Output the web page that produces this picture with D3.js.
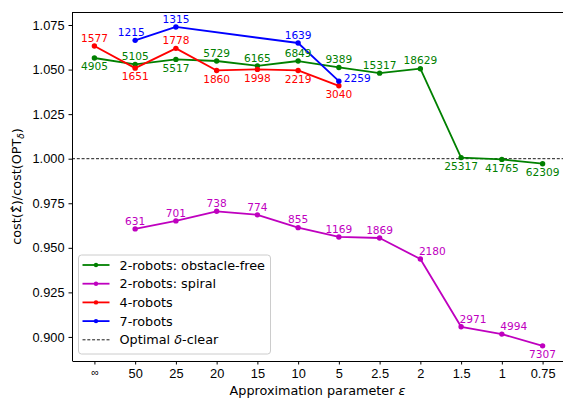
<!DOCTYPE html>
<html>
<head>
<meta charset="utf-8">
<script src="https://cdn.jsdelivr.net/npm/d3@7"></script>
<style>
  body { margin: 0; background: #fff; }
  svg { font-family: "DejaVu Sans", sans-serif; }
  .axis text { font-size: 12.8px; fill: #000; }
  .axis path, .axis line { stroke: #000; stroke-width: 1; }
</style>
</head>
<body>
<div id="chart"></div>
<script>
// categories on the x axis (approximation parameter)
var xLabels = ["\u221e", "50", "25", "20", "15", "10", "5", "2.5", "2", "1.5", "1", "0.75"];
var yTicks = [0.900, 0.925, 0.950, 0.975, 1.000, 1.025, 1.050, 1.075];

// series values (cost ratio) and annotated counts
var obstacleFree = [1.0565, 1.0529, 1.0557, 1.0548, 1.0521, 1.0548, 1.0512, 1.0480, 1.0505, 1.0006, 0.9996, 0.9972];
var obstacleFreeN = [4905, 5105, 5517, 5729, 6165, 6849, 9389, 15317, 18629, 25317, 41765, 62309];
var spiral = [null, 0.9606, 0.9651, 0.9705, 0.9685, 0.9613, 0.9561, 0.9555, 0.9437, 0.9057, 0.9016, 0.8950];
var spiralN = [null, 631, 701, 738, 774, 855, 1169, 1869, 2180, 2971, 4994, 7307];
var robots4 = [1.0632, 1.0508, 1.0619, 1.0495, 1.0501, 1.0495, 1.0409];
var robots4N = [1577, 1651, 1778, 1860, 1998, 2219, 3040];
var robots7 = [null, 1.0664, 1.0739, null, null, 1.0649, 1.0435];
var robots7N = [null, 1215, 1315, null, null, 1639, 2259];

// where each annotation sits relative to its point
var obstacleFreePos = ["b", "a", "b", "a", "a", "a", "a", "a", "a", "b", "b", "b"];
var spiralPos = [null, "a", "a", "a", "a", "a", "a", "a", "ar", "ar", "ar", "b"];
var robots4Pos = ["a", "b", "a", "b", "b", "b", "b"];
var robots7Pos = [null, "al", "a", null, null, "a", "r"];

var offsets = {
    a:  {dx: 0,   dy: -4.3, anchor: "middle"},
    al: {dx: -4,  dy: -4.3, anchor: "middle"},
    ar: {dx: 12,  dy: -3.6, anchor: "middle"},
    b:  {dx: 0,   dy: 12.3, anchor: "middle"},
    r:  {dx: 5,   dy: 0.5,  anchor: "start"}
};

var W = 563, H = 401;
var margin = {top: 12, left: 72, right: -2, bottom: 40};
var width = W - margin.left - margin.right,
    height = H - margin.top - margin.bottom;

var x = d3.scaleLinear().domain([-0.55, 11.55]).range([0, width]);
var y = d3.scaleLinear().domain([0.8865, 1.0823]).range([height, 0]);

var svg = d3.select("#chart").append("svg")
    .attr("width", W)
    .attr("height", H);

var g = svg.append("g")
    .attr("transform", "translate(" + margin.left + "," + margin.top + ")");

// reference line at 1.0
g.append("line")
    .attr("x1", 0).attr("x2", width)
    .attr("y1", y(1)).attr("y2", y(1))
    .attr("stroke", "#000")
    .attr("stroke-width", 0.9)
    .attr("stroke-dasharray", "3,1.8");

var series = [
    {name: "2-robots: obstacle-free", color: "#008000", vals: obstacleFree, n: obstacleFreeN, pos: obstacleFreePos},
    {name: "2-robots: spiral", color: "#bf00bf", vals: spiral, n: spiralN, pos: spiralPos},
    {name: "4-robots", color: "#ff0000", vals: robots4, n: robots4N, pos: robots4Pos},
    {name: "7-robots", color: "#0000ff", vals: robots7, n: robots7N, pos: robots7Pos}
];

var line = d3.line()
    .x(function (d) { return x(d.i); })
    .y(function (d) { return y(d.v); });

series.forEach(function (s) {
    var pts = [];
    s.vals.forEach(function (v, i) {
        if (v !== null) pts.push({i: i, v: v, n: s.n[i], pos: s.pos[i]});
    });
    s.pts = pts;

    g.append("path")
        .datum(pts)
        .attr("fill", "none")
        .attr("stroke", s.color)
        .attr("stroke-width", 1.8)
        .attr("stroke-linejoin", "round")
        .attr("d", line);

    g.selectAll(null)
        .data(pts)
        .enter().append("circle")
        .attr("cx", function (d) { return x(d.i); })
        .attr("cy", function (d) { return y(d.v); })
        .attr("r", 2.7)
        .attr("fill", s.color);
});

// annotations drawn after all lines
series.forEach(function (s) {
    g.selectAll(null)
        .data(s.pts)
        .enter().append("text")
        .attr("x", function (d) { return x(d.i) + offsets[d.pos].dx; })
        .attr("y", function (d) { return y(d.v) + offsets[d.pos].dy; })
        .attr("text-anchor", function (d) { return offsets[d.pos].anchor; })
        .attr("font-size", "10.6px")
        .attr("fill", s.color)
        .text(function (d) { return d.n; });
});

// axes
var xAxis = g.append("g")
    .attr("class", "axis")
    .attr("transform", "translate(0," + height + ")")
    .call(d3.axisBottom(x)
        .tickValues(d3.range(xLabels.length))
        .tickFormat(function (i) { return xLabels[i]; })
        .tickSize(3.5)
        .tickPadding(4));
xAxis.select(".domain").attr("d", "M0.5,0.5H" + width);
xAxis.selectAll(".tick text").filter(function (i) { return i === 0; })
    .style("font-size", "10.5px");

var yAxis = g.append("g")
    .attr("class", "axis")
    .call(d3.axisLeft(y)
        .tickValues(yTicks)
        .tickFormat(d3.format(".3f"))
        .tickSize(3.5)
        .tickPadding(4));
yAxis.select(".domain").attr("d", "M0.5," + height + "V0.5");

// top and right spines
g.append("line").attr("x1", 0).attr("x2", width).attr("y1", 0.5).attr("y2", 0.5)
    .attr("stroke", "#000");
g.append("line").attr("x1", width - 0.5).attr("x2", width - 0.5).attr("y1", 0).attr("y2", height)
    .attr("stroke", "#000");

// axis titles
var xt = svg.append("text")
    .attr("x", margin.left + width / 2 - 1)
    .attr("y", 395)
    .attr("text-anchor", "middle")
    .attr("font-size", "12.8px");
xt.append("tspan").text("Approximation parameter ");
xt.append("tspan").attr("font-style", "italic").text("\u03b5");

var yt = svg.append("text")
    .attr("transform", "translate(20.5," + (margin.top + height / 2) + ") rotate(-90)")
    .attr("text-anchor", "middle")
    .attr("font-size", "12.8px");
yt.append("tspan").text("cost(\u03a3\u0302)/cost(OPT");
yt.append("tspan").attr("font-size", "9px").attr("dy", "3").attr("font-style", "italic").text("\u03b4");
yt.append("tspan").attr("dy", "-3").text(")");

// legend
var lg = g.append("g").attr("transform", "translate(6.5," + (255 - margin.top) + ")");
lg.append("rect")
    .attr("width", 192).attr("height", 99)
    .attr("rx", 3)
    .attr("fill", "#fff").attr("fill-opacity", 0.8)
    .attr("stroke", "#ccc");

var legendItems = series.map(function (s) { return {name: s.name, color: s.color, dash: false}; });
legendItems.push({name: "Optimal ", color: "#000", dash: true});

legendItems.forEach(function (d, i) {
    var yy = 10 + i * 18.7;
    var row = lg.append("g").attr("transform", "translate(0," + yy + ")");
    row.append("line")
        .attr("x1", 4).attr("x2", 31)
        .attr("stroke", d.color)
        .attr("stroke-width", d.dash ? 0.9 : 1.8)
        .attr("stroke-dasharray", d.dash ? "3,1.8" : null);
    if (!d.dash) {
        row.append("circle").attr("cx", 17.5).attr("r", 2.2).attr("fill", d.color);
    }
    var t = row.append("text")
        .attr("x", 41).attr("y", 4.5)
        .attr("font-size", "12.8px");
    t.append("tspan").text(d.name);
    if (d.dash) {
        t.append("tspan").attr("font-style", "italic").text("\u03b4");
        t.append("tspan").text("-clear");
    }
});
</script>
</body>
</html>
